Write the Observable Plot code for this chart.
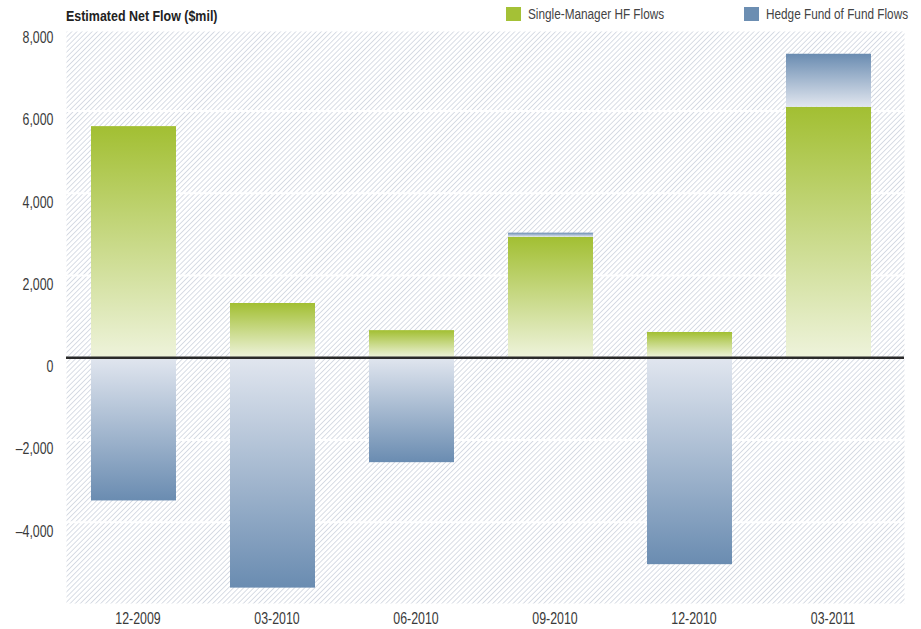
<!DOCTYPE html>
<html>
<head>
<meta charset="utf-8">
<script src="https://cdn.jsdelivr.net/npm/d3@7"></script>
<script src="https://cdn.jsdelivr.net/npm/@observablehq/plot@0.6"></script>
<style>
  body { margin: 0; background: #fff; }
  #chart { position: relative; width: 921px; height: 629px;
    font-family: "Liberation Sans", Arial, sans-serif; color: #333; }
  .title { position: absolute; left: 66px; top: 8px; font-size: 15px; line-height: 15px; font-weight: bold; color: #222;
    white-space: nowrap; transform: scaleX(0.83); transform-origin: 0 0; }
  .key { position: absolute; top: 7px; height: 14px; font-size: 15.4px; line-height: 14px; color: #444; white-space: nowrap; display: flex; align-items: center; }
  .swatch { display: inline-block; width: 15px; height: 14px; margin-right: 7px; flex: none; }
  .key .label { display: inline-block; transform: scaleX(0.765); transform-origin: 0 50%; }
</style>
</head>
<body>
<svg width="0" height="0" style="position:absolute">
  <defs>
    <pattern id="hatch" width="3.6" height="3.6" patternUnits="userSpaceOnUse" patternTransform="rotate(45)">
      <rect width="3.6" height="3.6" fill="#ffffff"></rect>
      <line x1="0" y1="0" x2="0" y2="3.6" stroke="#ccd2dc" stroke-width="1.5"></line>
    </pattern>
    <linearGradient id="gradSM" x1="0" y1="0" x2="0" y2="1">
      <stop offset="0" stop-color="#a2bf32"></stop>
      <stop offset="1" stop-color="#eef3db"></stop>
    </linearGradient>
    <linearGradient id="gradFoFDown" x1="0" y1="0" x2="0" y2="1">
      <stop offset="0" stop-color="#e1e6ef"></stop>
      <stop offset="1" stop-color="#6a8cb1"></stop>
    </linearGradient>
    <linearGradient id="gradFoFUp" x1="0" y1="0" x2="0" y2="1">
      <stop offset="0" stop-color="#6a8cb1"></stop>
      <stop offset="1" stop-color="#e1e6ef"></stop>
    </linearGradient>
  </defs>
</svg>
<div id="chart"></div>
<script>
// Quarterly estimated net flows, $ millions
const periods = ["12-2009", "03-2010", "06-2010", "09-2010", "12-2010", "03-2011"];
const singleManager = [5620, 1320, 660, 2930, 615, 6090];
const fundOfFunds = [-3480, -5600, -2550, 100, -5030, 1290];
const seriesNames = ["Single-Manager HF Flows", "Hedge Fund of Fund Flows"];
const seriesColors = ["#a4c136", "#6c8eb2"];
const yTicks = [-4000, -2000, 0, 2000, 4000, 6000, 8000];
const gridTicks = [-4000, -2000, 2000, 4000, 6000];
const yDomain = [-5974, 7933];
const chartTitle = "Estimated Net Flow ($mil)";

const rows = periods.flatMap((p, i) => [
  {period: p, series: seriesNames[0], value: singleManager[i]},
  {period: p, series: seriesNames[1], value: fundOfFunds[i]}
]);

const barFill = d =>
  d.series === seriesNames[0] ? "url(#gradSM)"
  : d.value < 0 ? "url(#gradFoFDown)" : "url(#gradFoFUp)";

const fmt = d => (d < 0 ? "\u2013" : "") + d3.format(",")(Math.abs(d));

const plot = Plot.plot({
  width: 921,
  height: 629,
  marginLeft: 66,
  marginRight: 17,
  marginTop: 31,
  marginBottom: 26,
  style: {
    fontFamily: '"Liberation Sans", Arial, sans-serif',
    fontSize: "16.5px",
    color: "#333",
    background: "transparent"
  },
  x: {type: "band", domain: periods, padding: 0},
  y: {domain: yDomain},
  color: {type: "identity"},
  marks: [
    Plot.frame({fill: "url(#hatch)", stroke: null}),
    Plot.ruleY(gridTicks, {stroke: "#ffffff", strokeWidth: 2}),
    Plot.barY(rows, Plot.stackY({
      x: "period",
      y: "value",
      z: "series",
      fill: barFill,
      insetLeft: 23,
      insetRight: 31
    })),
    Plot.ruleY([0], {stroke: "#2a2a2a", strokeWidth: 2.5}),
    Plot.axisY(yTicks, {tickSize: 0, tickPadding: 13, dy: 9, tickFormat: fmt, label: null, fontSize: 16.5, fill: "#3a3a3a"}),
    Plot.axisX({tickSize: 0, tickPadding: 9, label: null, fontSize: 16.5, fill: "#3a3a3a"})
  ]
});

// Condense the axis lettering horizontally around each label's anchor
plot.querySelectorAll("g[aria-label$='tick label'] text").forEach(t => {
  const tr = t.getAttribute("transform") || "";
  t.setAttribute("transform", (tr + " scale(0.75,1)").trim());
});

const chart = document.getElementById("chart");
chart.appendChild(plot);

const title = document.createElement("div");
title.className = "title";
title.textContent = chartTitle;
chart.appendChild(title);

const keyLeft = [506, 744];
seriesNames.forEach((name, i) => {
  const key = document.createElement("div");
  key.className = "key";
  key.style.left = keyLeft[i] + "px";
  const sw = document.createElement("span");
  sw.className = "swatch";
  sw.style.background = seriesColors[i];
  const lab = document.createElement("span");
  lab.className = "label";
  lab.textContent = name;
  key.appendChild(sw);
  key.appendChild(lab);
  chart.appendChild(key);
});
</script>
</body>
</html>
